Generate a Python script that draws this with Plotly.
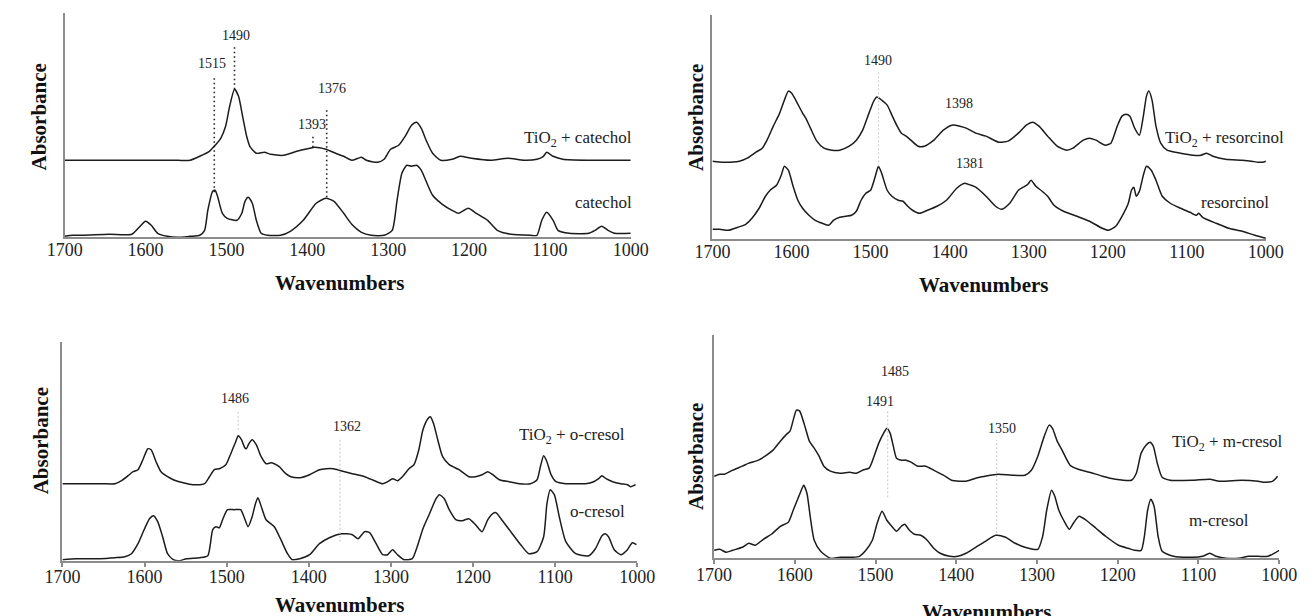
import plotly.graph_objects as go

# ---------------- DATA (wavenumber cm-1, absorbance a.u.) ----------------
# Panel 1: catechol
cat_tio2_wn = [1700,1680,1650,1620,1590,1560,1545,1533,1521,1515,1507,1501,1496,1490,1485,1480,1475,1471,1463,1453,
               1445,1429,1413,1397,1391,1377,1365,1355,1345,1333,1327,1313,1305,1297,1287,1279,1271,1265,1259,1253,
               1245,1235,1221,1211,1197,1173,1152,1132,1116,1108,1104,1096,1084,1052,1028,1000]
cat_tio2_abs = [0.77,0.77,0.77,0.77,0.77,0.77,0.77,0.81,0.86,0.91,0.99,1.11,1.31,1.48,1.41,1.21,1.01,0.91,0.84,0.85,
                0.83,0.82,0.86,0.89,0.90,0.88,0.84,0.81,0.77,0.80,0.77,0.75,0.78,0.88,0.92,1.01,1.12,1.15,1.09,0.97,
                0.84,0.77,0.78,0.81,0.79,0.77,0.79,0.77,0.78,0.81,0.85,0.81,0.78,0.77,0.77,0.77]
cat_wn = [1700,1690,1678,1645,1617,1609,1600,1593,1585,1573,1561,1545,1533,1527,1523,1517,1514,1511,1505,1499,
          1487,1481,1477,1473,1468,1463,1457,1449,1433,1421,1405,1389,1377,1367,1355,1345,1333,1321,1305,1295,
          1289,1283,1277,1271,1265,1259,1253,1245,1233,1221,1213,1201,1191,1177,1165,1148,1124,1116,1110,1104,
          1096,1090,1076,1052,1044,1036,1028,1020,1000]
cat_abs = [0.01,0.02,0.02,0.03,0.03,0.09,0.16,0.12,0.04,0.01,0.00,0.01,0.02,0.07,0.27,0.46,0.47,0.41,0.24,0.19,
           0.17,0.24,0.36,0.40,0.34,0.17,0.04,0.02,0.02,0.06,0.17,0.34,0.39,0.36,0.24,0.13,0.05,0.02,0.02,0.07,
           0.37,0.64,0.72,0.71,0.72,0.67,0.56,0.42,0.33,0.27,0.24,0.29,0.24,0.17,0.07,0.03,0.02,0.02,0.17,0.25,
           0.17,0.07,0.04,0.04,0.07,0.11,0.07,0.04,0.04]

# Panel 2: resorcinol
res_tio2_wn = [1700,1686,1666,1656,1645,1637,1631,1623,1615,1609,1604,1600,1594,1586,1582,1576,1568,1559,1549,1539,
               1527,1518,1510,1502,1496,1492,1486,1479,1473,1467,1461,1455,1449,1440,1432,1420,1408,1397,1387,1379,
               1367,1354,1338,1326,1313,1303,1295,1287,1276,1264,1252,1244,1231,1223,1215,1203,1196,1188,1182,1177,
               1172,1166,1160,1155,1151,1148,1144,1139,1133,1125,1108,1092,1082,1075,1067,1051,1030,1018,1010,1004,1000]
res_tio2_abs = [0.78,0.77,0.78,0.81,0.87,0.91,0.99,1.13,1.26,1.39,1.48,1.46,1.38,1.26,1.21,1.11,0.98,0.91,0.89,0.89,
                0.93,0.99,1.09,1.26,1.38,1.42,1.39,1.34,1.24,1.14,1.06,1.03,0.99,0.93,0.93,0.99,1.09,1.14,1.13,1.11,
                1.06,1.03,0.97,0.98,1.06,1.14,1.17,1.13,1.03,0.93,0.89,0.91,0.99,1.01,0.99,0.94,0.96,1.13,1.23,1.25,
                1.23,1.11,1.04,1.23,1.43,1.48,1.39,1.13,0.96,0.89,0.86,0.84,0.84,0.86,0.83,0.80,0.79,0.78,0.77,0.77,0.78]
res_wn = [1700,1691,1680,1668,1658,1650,1641,1633,1627,1619,1613,1609,1604,1598,1592,1586,1578,1570,1561,1553,
          1547,1539,1531,1524,1518,1512,1506,1500,1494,1490,1486,1479,1473,1465,1459,1453,1447,1438,1428,1416,
          1404,1391,1381,1373,1367,1354,1342,1334,1324,1313,1307,1301,1297,1291,1283,1276,1268,1256,1239,1223,
          1207,1199,1190,1182,1174,1170,1167,1164,1160,1155,1151,1145,1139,1131,1121,1108,1096,1088,1085,1080,
          1063,1047,1030,1014,1000]
res_abs = [0.10,0.10,0.09,0.12,0.15,0.21,0.31,0.43,0.49,0.54,0.64,0.73,0.69,0.53,0.39,0.31,0.24,0.19,0.16,0.14,
           0.19,0.22,0.23,0.24,0.28,0.39,0.46,0.49,0.63,0.73,0.66,0.49,0.43,0.39,0.38,0.33,0.29,0.26,0.29,0.33,
           0.39,0.51,0.56,0.54,0.52,0.43,0.33,0.30,0.36,0.49,0.52,0.55,0.59,0.53,0.48,0.43,0.34,0.28,0.23,0.18,
           0.11,0.09,0.13,0.23,0.36,0.49,0.52,0.43,0.48,0.64,0.73,0.69,0.59,0.43,0.36,0.31,0.27,0.24,0.26,0.22,
           0.16,0.11,0.08,0.04,0.01]

# Panel 3: o-cresol
oc_tio2_wn = [1700,1675,1651,1636,1628,1620,1614,1608,1602,1596,1592,1586,1580,1572,1565,1553,1541,1527,1521,1515,
              1509,1501,1495,1489,1486,1482,1478,1476,1473,1469,1464,1458,1452,1446,1442,1436,1428,1422,1411,1399,
              1387,1379,1370,1361,1347,1332,1320,1310,1304,1298,1292,1286,1278,1272,1266,1261,1255,1252,1248,1243,
              1237,1229,1217,1205,1197,1189,1182,1176,1168,1156,1144,1130,1122,1118,1114,1110,1105,1099,1087,1075,
              1063,1053,1047,1043,1038,1030,1020,1012,1008,1002]
oc_tio2_abs = [0.77,0.77,0.77,0.77,0.80,0.85,0.89,0.91,1.01,1.12,1.11,0.99,0.89,0.84,0.81,0.78,0.76,0.77,0.84,0.91,
               0.92,0.96,1.07,1.19,1.25,1.21,1.13,1.12,1.17,1.21,1.16,1.04,0.97,0.98,0.97,0.94,0.87,0.84,0.83,0.86,
               0.91,0.92,0.92,0.90,0.87,0.84,0.80,0.77,0.79,0.82,0.80,0.84,0.92,0.96,1.11,1.31,1.42,1.44,1.37,1.21,
               1.04,0.96,0.91,0.84,0.84,0.86,0.89,0.86,0.81,0.79,0.77,0.77,0.81,0.94,1.05,0.99,0.86,0.79,0.77,0.77,
               0.77,0.79,0.82,0.85,0.82,0.79,0.77,0.76,0.74,0.76]
oc_wn = [1700,1683,1655,1636,1624,1616,1608,1600,1594,1589,1584,1578,1572,1565,1557,1549,1533,1523,1517,1513,
         1509,1505,1499,1491,1483,1479,1474,1469,1465,1462,1457,1452,1442,1434,1426,1420,1411,1399,1387,1375,
         1360,1347,1340,1332,1326,1318,1310,1304,1298,1292,1284,1274,1268,1261,1253,1245,1241,1235,1229,1221,
         1213,1205,1197,1189,1182,1176,1172,1166,1154,1142,1132,1122,1114,1110,1106,1101,1095,1087,1075,1059,
         1051,1043,1039,1035,1028,1020,1012,1006,1001]
oc_abs = [0.01,0.02,0.02,0.03,0.04,0.07,0.17,0.32,0.42,0.45,0.39,0.24,0.07,0.01,0.00,0.02,0.03,0.05,0.31,0.34,
          0.33,0.41,0.51,0.51,0.51,0.44,0.34,0.44,0.57,0.63,0.52,0.41,0.34,0.21,0.07,0.01,0.02,0.06,0.17,0.23,
          0.27,0.26,0.22,0.29,0.28,0.17,0.06,0.06,0.11,0.06,0.01,0.02,0.14,0.32,0.47,0.62,0.66,0.62,0.51,0.41,
          0.40,0.42,0.36,0.29,0.41,0.47,0.48,0.42,0.29,0.16,0.07,0.09,0.24,0.57,0.71,0.66,0.44,0.19,0.07,0.05,
          0.12,0.25,0.27,0.24,0.11,0.06,0.11,0.18,0.16]

# Panel 4: m-cresol
mc_tio2_wn = [1700,1693,1687,1677,1665,1657,1645,1635,1627,1618,1610,1606,1602,1598,1594,1588,1582,1576,1570,1564,
              1556,1544,1532,1524,1516,1508,1504,1496,1490,1486,1482,1478,1474,1468,1462,1456,1448,1438,1428,1416,
              1406,1396,1388,1376,1364,1348,1331,1315,1307,1299,1291,1285,1281,1275,1269,1259,1249,1235,1219,1203,
              1183,1177,1171,1165,1160,1156,1151,1145,1135,1107,1086,1074,1046,1026,1018,1008,1002]
mc_tio2_abs = [0.82,0.84,0.84,0.88,0.92,0.95,0.98,1.03,1.08,1.17,1.24,1.27,1.38,1.48,1.47,1.33,1.17,1.10,1.02,0.92,
               0.87,0.85,0.86,0.85,0.88,0.90,0.97,1.15,1.25,1.30,1.25,1.12,1.00,0.98,0.98,0.96,0.92,0.92,0.88,0.83,
               0.78,0.77,0.77,0.80,0.82,0.84,0.83,0.83,0.88,1.02,1.22,1.33,1.30,1.17,1.08,0.93,0.89,0.86,0.82,0.79,
               0.78,0.85,1.05,1.13,1.16,1.12,0.95,0.81,0.78,0.78,0.79,0.77,0.78,0.77,0.76,0.77,0.82]
mc_wn = [1700,1693,1685,1677,1665,1657,1649,1639,1629,1618,1608,1602,1596,1592,1589,1585,1581,1576,1568,1556,
         1544,1528,1520,1512,1504,1498,1492,1486,1480,1474,1468,1464,1458,1452,1444,1436,1428,1420,1408,1398,
         1388,1376,1364,1351,1339,1327,1315,1299,1293,1288,1282,1278,1273,1267,1260,1255,1248,1239,1227,1215,
         1199,1187,1179,1171,1167,1163,1159,1155,1150,1145,1131,1107,1095,1086,1078,1066,1050,1038,1026,1014,1000]
mc_abs = [0.08,0.09,0.06,0.08,0.11,0.15,0.13,0.19,0.24,0.32,0.36,0.48,0.60,0.68,0.73,0.65,0.42,0.18,0.07,0.00,
          0.01,0.01,0.02,0.08,0.18,0.35,0.47,0.38,0.32,0.27,0.32,0.34,0.28,0.24,0.23,0.18,0.10,0.05,0.02,0.02,
          0.05,0.11,0.17,0.23,0.21,0.15,0.11,0.09,0.22,0.48,0.68,0.62,0.48,0.38,0.29,0.35,0.42,0.38,0.30,0.22,
          0.13,0.10,0.08,0.08,0.22,0.48,0.59,0.52,0.22,0.07,0.02,0.01,0.02,0.05,0.02,0.00,0.00,0.02,0.02,0.02,0.08]

tick_vals = [1700, 1600, 1500, 1400, 1300, 1200, 1100, 1000]
tick_text = ["1700", "1600", "1500", "1400", "1300", "1200", "1100", "1000"]

# peak markers: (label, wavenumber of marker line)
p1_peaks = ["1490", "1515", "1393", "1376"]
p1_peak_wn = [1490, 1515, 1393, 1376]
p2_peaks = ["1490", "1398", "1381"]
p2_peak_wn = [1490, 1398, 1381]
p3_peaks = ["1486", "1362"]
p3_peak_wn = [1486, 1362]
p4_peaks = ["1485", "1491", "1350"]
p4_peak_wn = [1485, 1491, 1350]

# ---------------- FIGURE ----------------
W, H = 1315, 616
SERIF = "Liberation Serif, Times New Roman, serif"
LINE = "#1c1c1c"
AXIS = "#8c8c8c"

def px(x):
    return x / W

def py(y):
    return 1 - y / H

panels = [
    dict(xd=(48, 630), yd=(237.3, 13.3), ymax=2.24, ticks="", standoff=-5),
    dict(xd=(714, 1283), yd=(239.3, 15.0), ymax=2.24, ticks="", standoff=-5),
    dict(xd=(45.7, 636.7), yd=(560.7, 341.7), ymax=2.19, ticks="outside", standoff=-5),
    dict(xd=(715.7, 1296.7), yd=(558.3, 335.0), ymax=2.23, ticks="outside", standoff=-5),
]

series = [
    [(cat_tio2_wn, cat_tio2_abs), (cat_wn, cat_abs)],
    [(res_tio2_wn, res_tio2_abs), (res_wn, res_abs)],
    [(oc_tio2_wn, oc_tio2_abs), (oc_wn, oc_abs)],
    [(mc_tio2_wn, mc_tio2_abs), (mc_wn, mc_abs)],
]

fig = go.Figure()
layout = dict(width=W, height=H, margin=dict(l=0, r=0, t=0, b=0),
              paper_bgcolor="white", plot_bgcolor="white", showlegend=False)

for i, (p, ser) in enumerate(zip(panels, series), start=1):
    xa = "x" if i == 1 else f"x{i}"
    ya = "y" if i == 1 else f"y{i}"
    for wn, ab in ser:
        fig.add_trace(go.Scatter(x=wn, y=ab, mode="lines", xaxis=xa, yaxis=ya,
                                 line=dict(color=LINE, width=1.5, shape="spline", smoothing=0.6),
                                 hoverinfo="skip"))
    xkey = "xaxis" if i == 1 else f"xaxis{i}"
    ykey = "yaxis" if i == 1 else f"yaxis{i}"
    layout[xkey] = dict(domain=[px(p["xd"][0]), px(p["xd"][1])], range=[1700, 1000],
                        anchor=ya, showline=True, linecolor=AXIS, linewidth=2,
                        showgrid=False, zeroline=False, tickvals=tick_vals, ticktext=tick_text,
                        ticks=p["ticks"], ticklen=4, tickcolor=AXIS, tickwidth=1.5,
                        ticklabelstandoff=p["standoff"],
                        tickfont=dict(family=SERIF, size=18, color="#222222"))
    layout[ykey] = dict(domain=[py(p["yd"][0]), py(p["yd"][1])], range=[0, p["ymax"]],
                        anchor=xa, showline=True, linecolor=AXIS, linewidth=2,
                        showgrid=False, zeroline=False, showticklabels=False, ticks="")

fig.update_layout(**layout)

ann = []
shapes = []

def label(text, x, y, xr, yr, size=14, xanchor="center", xshift=0):
    ann.append(dict(text=text, x=x, y=y, xref=xr, yref=yr, showarrow=False,
                    xanchor=xanchor, yanchor="middle", xshift=xshift,
                    font=dict(family=SERIF, size=size, color="#222222")))

def vline(x, y0, y1, xr, yr, color, width=1.5, dash="1.5px,3px"):
    shapes.append(dict(type="line", x0=x, x1=x, y0=y0, y1=y1, xref=xr, yref=yr,
                       line=dict(color=color, width=width, dash=dash)))

# Panel 1 markers
p1_line_top = [1.90, 1.59, 1.02, 1.30]
p1_line_bot = [1.48, 0.45, 0.90, 0.40]
p1_lab_x = [1488, 1518, 1394, 1370]
p1_lab_y = [2.02, 1.74, 1.13, 1.49]
for t, w, y0, y1, lx, ly in zip(p1_peaks, p1_peak_wn, p1_line_bot, p1_line_top, p1_lab_x, p1_lab_y):
    vline(w, y0, y1, "x", "y", "#222222", 1.6)
    label(t, lx, ly, "x", "y")
label("TiO<sub>2</sub> + catechol", 1000, 0.98, "x", "y", 17, "right", 3)
label("catechol", 1000, 0.35, "x", "y", 17, "right", 3)

GRAY = "#cfcfcf"
# Panel 2 markers
vline(p2_peak_wn[0], 0.73, 1.69, "x2", "y2", GRAY, 1.2, "2px,2px")
for t, lx, ly in zip(p2_peaks, [1490, 1388, 1374], [1.79, 1.36, 0.76]):
    label(t, lx, ly, "x2", "y2")
label("TiO<sub>2</sub> + resorcinol", 1000, 1.00, "x2", "y2", 17, "right", 20)
label("resorcinol", 1000, 0.37, "x2", "y2", 17, "right", 5)

# Panel 3 markers
vline(p3_peak_wn[0], 1.31, 1.49, "x3", "y3", GRAY, 1.2, "2px,2px")
vline(p3_peak_wn[1], 0.19, 1.23, "x3", "y3", GRAY, 1.2, "2px,2px")
for t, lx, ly in zip(p3_peaks, [1490, 1354], [1.62, 1.34]):
    label(t, lx, ly, "x3", "y3")
label("TiO<sub>2</sub> + o-cresol", 1000, 1.25, "x3", "y3", 17, "right", -10)
label("o-cresol", 1000, 0.49, "x3", "y3", 17, "right", -10)

# Panel 4 markers
vline(p4_peak_wn[0], 0.61, 1.48, "x4", "y4", GRAY, 1.2, "2px,2px")
vline(p4_peak_wn[2], 0.25, 1.18, "x4", "y4", GRAY, 1.2, "2px,2px")
for t, lx, ly in zip(p4_peaks, [1476, 1494, 1343], [1.87, 1.57, 1.30]):
    label(t, lx, ly, "x4", "y4")
label("TiO<sub>2</sub> + m-cresol", 1000, 1.15, "x4", "y4", 17, "right", 6)
label("m-cresol", 1074, 0.38, "x4", "y4", 17, "center", 0)

# Axis titles
for (xx, yy) in [(22, 117), (697, 117), (24, 441), (697, 456)]:
    ann.append(dict(text="<b>Absorbance</b>", x=px(xx), y=py(yy), xref="paper", yref="paper",
                    showarrow=False, textangle=-90, xanchor="center", yanchor="middle",
                    font=dict(family=SERIF, size=21, color="#111111")))
for (xx, yy) in [(331, 283), (993, 285), (331, 605), (996, 612)]:
    ann.append(dict(text="<b>Wavenumbers</b>", x=px(xx), y=py(yy), xref="paper", yref="paper",
                    showarrow=False, xanchor="center", yanchor="middle",
                    font=dict(family=SERIF, size=21, color="#111111")))

fig.update_layout(annotations=ann, shapes=shapes)
fig.write_html("out.html")
